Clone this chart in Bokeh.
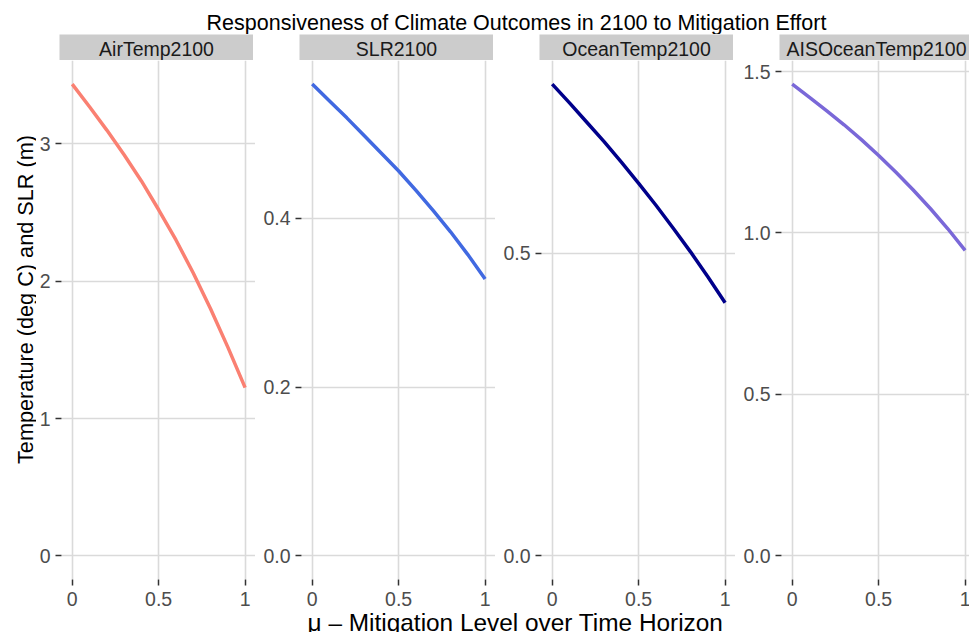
import math
from bokeh.plotting import figure
from bokeh.layouts import row, column
from bokeh.models import Range1d, FixedTicker, Label
from bokeh.embed import file_html
from bokeh.resources import INLINE
from bokeh.core.properties import value

# ---------------- data ----------------
mu = [0.0, 0.1, 0.2, 0.3, 0.4, 0.5, 0.6, 0.7, 0.8, 0.9, 1.0]
air_temp_2100 = [3.435, 3.27, 3.10, 2.92, 2.73, 2.52, 2.30, 2.06, 1.80, 1.52, 1.225]
slr_2100 = [0.559, 0.539, 0.519, 0.498, 0.477, 0.456, 0.433, 0.409, 0.384, 0.357, 0.328]
ocean_temp_2100 = [0.779, 0.748, 0.716, 0.684, 0.650, 0.615, 0.579, 0.541, 0.502, 0.461, 0.418]
ais_ocean_temp_2100 = [1.461, 1.420, 1.378, 1.335, 1.289, 1.240, 1.188, 1.133, 1.075, 1.013, 0.946]

panel_names = ["AirTemp2100", "SLR2100", "OceanTemp2100", "AISOceanTemp2100"]
series = [air_temp_2100, slr_2100, ocean_temp_2100, ais_ocean_temp_2100]
y_ticks = [[0, 1, 2, 3], [0.0, 0.2, 0.4], [0.0, 0.5], [0.0, 0.5, 1.0, 1.5]]
y_tick_labels = [["0", "1", "2", "3"], ["0.0", "0.2", "0.4"], ["0.0", "0.5"],
                 ["0.0", "0.5", "1.0", "1.5"]]
x_ticks = [0, 0.5, 1]
x_tick_labels = ["0", "0.5", "1"]

title_text = "Responsiveness of Climate Outcomes in 2100 to Mitigation Effort"
x_label_text = "\u03bc \u2013 Mitigation Level over Time Horizon"
y_label_text = "Temperature (deg C) and SLR (m)"

# ---------------- style / layout ----------------
FONT = "Liberation Sans"
colors = ["#FA8072", "#4169E1", "#00008B", "#7A68D8"]
GRID = "#DADADA"
STRIP_BG = "#CCCCCC"
TOTAL_W = 969
TITLE_H = 34
STRIP_H = 26
FRAME_H = 519
BOTTOM_B = 33
XLAB_H = 20
YLAB_W = 36
FRAME_W = [194, 194, 194, 190]
LEFT_B = [23, 46, 46, 46]
X0 = -0.062
PX_PER_X = 172.9
FULL_W = 194


def common(fig):
    fig.outline_line_color = None
    fig.background_fill_color = "white"
    fig.border_fill_color = "white"


panels = []
strips = []
for i in range(4):
    fw = FRAME_W[i]
    lb = LEFT_B[i]
    x_end = X0 + fw / PX_PER_X
    ymax = max(series[i])
    xr = Range1d(X0, x_end)
    yr = Range1d(-0.05 * ymax, 1.05 * ymax)

    p = figure(frame_width=fw, frame_height=FRAME_H, x_range=xr, y_range=yr,
               min_border_left=lb, min_border_right=0, min_border_top=0,
               min_border_bottom=BOTTOM_B, output_backend="svg",
               toolbar_location=None, tools="", title=None)
    common(p)
    p.line(mu, series[i], line_color=colors[i], line_width=3.5)

    p.xaxis.ticker = FixedTicker(ticks=x_ticks)
    p.xaxis.major_label_overrides = {t: l for t, l in zip(x_ticks, x_tick_labels)}
    p.yaxis.ticker = FixedTicker(ticks=y_ticks[i])
    p.yaxis.major_label_overrides = {t: l for t, l in zip(y_ticks[i], y_tick_labels[i])}
    p.xgrid.ticker = FixedTicker(ticks=x_ticks)
    p.ygrid.ticker = FixedTicker(ticks=y_ticks[i])
    for g in (p.xgrid, p.ygrid):
        g.grid_line_color = GRID
        g.grid_line_width = 1.6
        g.minor_grid_line_color = None
    for ax in (p.xaxis, p.yaxis):
        ax.axis_line_color = None
        ax.major_tick_line_color = "#333333"
        ax.major_tick_line_width = 1.5
        ax.major_tick_out = 6
        ax.major_tick_in = 0
        ax.minor_tick_line_color = None
        ax.major_label_text_font = FONT
        ax.major_label_text_font_size = "19.5px"
        ax.major_label_text_color = "#4D4D4D"
    p.yaxis.major_label_standoff = 5
    p.xaxis.major_label_standoff = 6
    panels.append(p)

    s = figure(frame_width=fw, frame_height=STRIP_H, x_range=xr, y_range=Range1d(0, 1),
               min_border_left=lb, min_border_right=0, min_border_top=0,
               min_border_bottom=0, output_backend="svg", toolbar_location=None,
               tools="", title=None, x_axis_location=None, y_axis_location=None)
    common(s)
    s.grid.visible = False
    s.background_fill_color = STRIP_BG
    cx = X0 + 0.5 * FULL_W / PX_PER_X
    s.text(x=[cx], y=[0.45], text=[panel_names[i]], text_align="center",
           text_baseline="middle", text_font=value(FONT), text_font_size="19.5px",
           text_color="#1A1A1A")
    strips.append(s)


def text_fig(w, h):
    f = figure(frame_width=w, frame_height=h, x_range=Range1d(0, w), y_range=Range1d(0, h),
               min_border=0, output_backend="svg", toolbar_location=None, tools="",
               title=None, x_axis_location=None, y_axis_location=None)
    common(f)
    f.grid.visible = False
    return f


title_fig = text_fig(TOTAL_W, TITLE_H)
title_fig.add_layout(Label(x=516, y=12, text=title_text, text_align="center",
                           text_baseline="alphabetic", text_font=FONT,
                           text_font_size="21.5px", text_color="black"))

ylab_h = STRIP_H + FRAME_H + BOTTOM_B
ylab_fig = text_fig(YLAB_W, ylab_h)
ylab_fig.add_layout(Label(x=24.5, y=313, text=y_label_text, angle=math.pi / 2,
                          text_align="center", text_baseline="alphabetic",
                          text_font=FONT, text_font_size="21.7px", text_color="black"))

xlab_fig = text_fig(TOTAL_W, XLAB_H)
xlab_fig.add_layout(Label(x=515, y=10.3, text=x_label_text, text_align="center",
                          text_baseline="alphabetic", text_font=FONT,
                          text_font_size="24.4px", text_color="black"))

layout = column(title_fig,
                row(ylab_fig, column(row(*strips), row(*panels))),
                xlab_fig)

open("out.html", "w").write(file_html(layout, INLINE))
